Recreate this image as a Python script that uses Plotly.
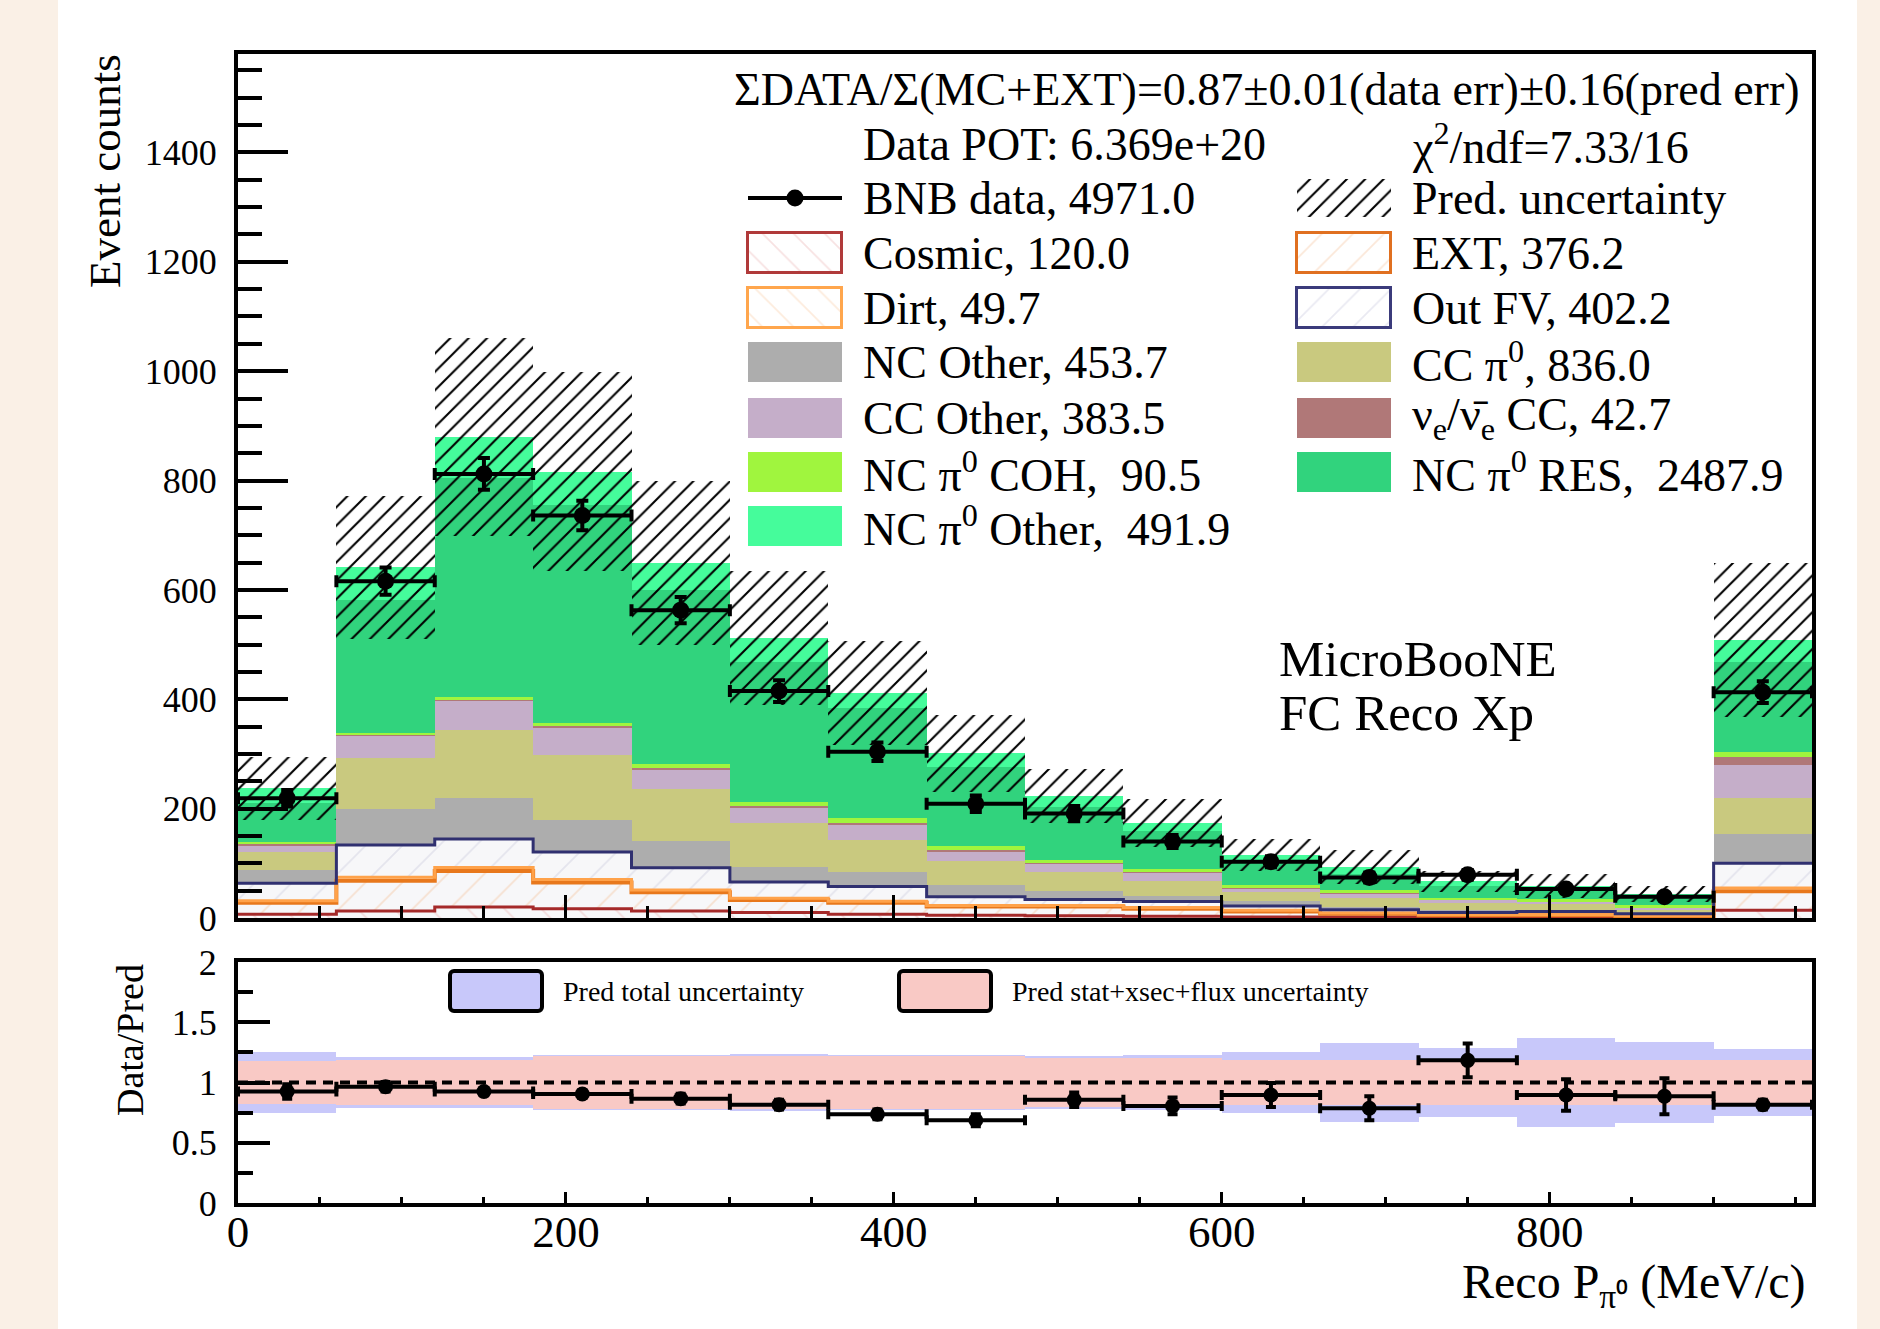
import plotly.graph_objects as go

# ---------------- data ----------------
BIN_EDGES = [0, 60, 120, 180, 240, 300, 360, 420, 480, 540, 600, 660, 720, 780, 840, 900, 960]

DATA = [219, 616, 812, 736, 563, 415, 304, 209, 191, 140, 103, 74, 79, 53, 39, 413]
DATA_ERR = [15, 25, 29, 27, 24, 20, 17, 15, 14, 12, 10, 9, 9, 7, 6, 20]

COSMIC = [7, 13, 20, 17, 13, 10, 7, 5, 4, 3, 2, 2, 1, 1, 1, 14]
EXT = [21, 55, 66, 48, 34, 23, 21, 16, 17, 14, 10, 6, 4, 4, 2, 35]
DIRT = [3.5, 6.5, 6.5, 5.5, 4, 3, 2.5, 2, 2, 2, 2, 1, 1, 1, 1, 6]
OUT_FV = [32, 59, 52, 50, 41, 30, 27, 16, 11, 11, 8, 6, 4, 6, 4, 45]
NC_OTHER = [23.5, 65.5, 74.5, 59.5, 48, 28, 26.5, 21, 16, 11, 10, 6, 5, 3, 2, 54]
CC_PI0 = [34, 93, 125, 119, 96, 80, 58, 45, 34, 27, 15, 16, 13, 10, 5, 66]
CC_OTHER = [12, 41, 53, 49, 36, 28, 29, 17, 15, 15, 7, 8, 5, 5, 4, 59]
NUE_CC = [1.5, 2, 2, 2.5, 2.5, 2.5, 2.5, 2, 1.5, 1.5, 1, 1, 1, 1, 1, 16]
NC_PI0_COH = [4, 4, 6, 7, 8, 8, 9, 7, 6, 5, 5, 5, 3, 3, 3, 8]
NC_PI0_RES = [71.5, 242, 399, 397.5, 317.5, 256.5, 201.5, 145, 96.5, 69.5, 43, 29, 21, 18, 15, 165]
NC_PI0_OTHER = [27, 60, 75, 61, 50, 43, 28, 25, 20, 15, 12, 14, 9, 7, 6, 40]

PRED_ERR = [58, 130, 181, 182, 150, 123, 95, 70, 50, 44, 29, 31, 19, 22, 15, 141]

RATIO = [0.925, 0.965, 0.925, 0.905, 0.866, 0.816, 0.736, 0.687, 0.856, 0.806,
         0.896, 0.786, 1.184, 0.896, 0.886, 0.816]
RATIO_ERR = [0.06, 0.04, 0.03, 0.03, 0.04, 0.04, 0.04, 0.05, 0.06, 0.07,
             0.10, 0.10, 0.14, 0.13, 0.15, 0.04]
BAND_TOTAL = [0.25, 0.21, 0.21, 0.23, 0.23, 0.24, 0.23, 0.23, 0.22, 0.23,
              0.25, 0.33, 0.29, 0.37, 0.34, 0.28]
BAND_STAT = [0.18, 0.19, 0.19, 0.22, 0.22, 0.22, 0.22, 0.22, 0.20, 0.20,
             0.19, 0.19, 0.19, 0.19, 0.19, 0.19]

STAT_TEXT = "ΣDATA/Σ(MC+EXT)=0.87±0.01(data err)±0.16(pred err)"
POT_TEXT = "Data POT: 6.369e+20"
CHI2_TEXT = "χ<sup>2</sup>/ndf=7.33/16"

# ---------------- helpers ----------------
W, H = 1880, 1329
FONT = "Liberation Serif"
centers = [(BIN_EDGES[i] + BIN_EDGES[i + 1]) / 2 for i in range(len(BIN_EDGES) - 1)]
widths = [BIN_EDGES[i + 1] - BIN_EDGES[i] for i in range(len(BIN_EDGES) - 1)]
halfw = [w / 2 for w in widths]
X_MIN, X_MAX = BIN_EDGES[0], BIN_EDGES[-1]


def px_x(p):
    return p / W


def px_y(p):
    return 1 - p / H


fig = go.Figure()

# stacked components: (values, fill color / pattern, outline color, outline width)
components = [
    (COSMIC, dict(shape="\\", fgcolor="#ecc0c0", bgcolor="#f7f7f9", size=26, solidity=0.07), "#a52a2a", 3),
    (EXT, dict(shape="/", fgcolor="#f6c9a8", bgcolor="#f7f7f9", size=26, solidity=0.07), "#e8781c", 4),
    (DIRT, dict(shape="\\", fgcolor="#fbd6b6", bgcolor="#f7f7f9", size=26, solidity=0.07), "#ffa24a", 3),
    (OUT_FV, dict(shape="/", fgcolor="#d2d2e2", bgcolor="#f7f7f9", size=26, solidity=0.07), "#303070", 3),
    (NC_OTHER, "#adadad", None, 0),
    (CC_PI0, "#c9c97f", None, 0),
    (CC_OTHER, "#c5aec9", None, 0),
    (NUE_CC, "#b07878", None, 0),
    (NC_PI0_COH, "#a0f53e", None, 0),
    (NC_PI0_RES, "#31d37d", None, 0),
    (NC_PI0_OTHER, "#45fc9b", None, 0),
]

cum = [0.0] * len(centers)
step_lines = []
for vals, style, lcol, lw in components:
    if isinstance(style, dict):
        marker = dict(color=style["bgcolor"], line=dict(width=0), pattern=style)
    else:
        marker = dict(color=style, line=dict(width=0))
    fig.add_trace(go.Bar(x=centers, y=vals, base=list(cum), width=widths, marker=marker,
                         xaxis="x", yaxis="y", hoverinfo="skip"))
    cum = [c + v for c, v in zip(cum, vals)]
    if lw:
        step_lines.append((list(cum), lcol, lw))

total = cum

# prediction uncertainty hatch
HATCH = dict(shape="/", fgcolor="black", bgcolor="rgba(0,0,0,0)", size=13, solidity=0.16, fillmode="replace")
fig.add_trace(go.Bar(
    x=centers, y=[2 * e for e in PRED_ERR], base=[t - e for t, e in zip(total, PRED_ERR)],
    width=widths, xaxis="x", yaxis="y", hoverinfo="skip",
    marker=dict(color="rgba(0,0,0,0)", line=dict(width=0), pattern=HATCH)))

for tops, lcol, lw in step_lines:
    fig.add_trace(go.Scatter(x=BIN_EDGES, y=tops + [tops[-1]], mode="lines",
                             line=dict(color=lcol, width=lw, shape="hv"),
                             xaxis="x", yaxis="y", hoverinfo="skip"))

# data points
fig.add_trace(go.Scatter(
    x=centers, y=DATA, mode="markers", xaxis="x", yaxis="y",
    marker=dict(color="black", size=17),
    error_y=dict(type="data", array=DATA_ERR, color="black", thickness=4, width=6),
    error_x=dict(type="data", array=halfw, color="black", thickness=4, width=6)))

# ratio panel
fig.add_trace(go.Bar(x=centers, y=[2 * b for b in BAND_TOTAL], base=[1 - b for b in BAND_TOTAL],
                     width=widths, marker=dict(color="#c8c8fa", line=dict(width=0)),
                     xaxis="x2", yaxis="y2", hoverinfo="skip"))
fig.add_trace(go.Bar(x=centers, y=[2 * b for b in BAND_STAT], base=[1 - b for b in BAND_STAT],
                     width=widths, marker=dict(color="#f9c9c5", line=dict(width=0)),
                     xaxis="x2", yaxis="y2", hoverinfo="skip"))
fig.add_trace(go.Scatter(x=[X_MIN, X_MAX], y=[1, 1], mode="lines",
                         line=dict(color="black", width=4, dash="10px,7px"),
                         xaxis="x2", yaxis="y2", hoverinfo="skip"))
fig.add_trace(go.Scatter(
    x=centers, y=RATIO, mode="markers", xaxis="x2", yaxis="y2",
    marker=dict(color="black", size=15),
    error_y=dict(type="data", array=RATIO_ERR, color="black", thickness=4, width=5),
    error_x=dict(type="data", array=halfw, color="black", thickness=4, width=5)))

# ---------------- legends (drawn on a pixel-space overlay axis) ----------------
annotations = []


def txt(x, y, s, size=46, anchor="left", family=FONT, angle=0):
    annotations.append(dict(x=x, y=y, xref="x3", yref="y3", text=s, showarrow=False,
                            xanchor=anchor, yanchor="middle", textangle=angle,
                            font=dict(size=size, family=family, color="black")))


def swatch(xc, yc, w, h, color, pattern=None, lcol=None, lw=0, radius=None):
    marker = dict(color=color, line=dict(width=lw, color=lcol or color))
    if pattern:
        marker["pattern"] = pattern
    if radius:
        marker["cornerradius"] = radius
    fig.add_trace(go.Bar(x=[xc], y=[h], base=[yc - h / 2], width=[w], marker=marker,
                         xaxis="x3", yaxis="y3", hoverinfo="skip"))


C1_SW, C2_SW, SW_W, SW_H = 795, 1344, 94, 40
C1_TX, C2_TX = 861, 1410
ROWS = [198, 253, 308, 362, 418, 472, 526]

txt(1802, 89, STAT_TEXT, anchor="right")
txt(C1_TX, 144, POT_TEXT)
txt(C2_TX, 144, CHI2_TEXT)

# BNB data entry
fig.add_trace(go.Scatter(x=[C1_SW - SW_W / 2, C1_SW + SW_W / 2], y=[ROWS[0], ROWS[0]], mode="lines",
                         line=dict(color="black", width=4), xaxis="x3", yaxis="y3", hoverinfo="skip"))
fig.add_trace(go.Scatter(x=[C1_SW], y=[ROWS[0]], mode="markers", marker=dict(color="black", size=17),
                         xaxis="x3", yaxis="y3", hoverinfo="skip"))
txt(C1_TX, ROWS[0], "BNB data, 4971.0")
# Pred. uncertainty entry
swatch(C2_SW, ROWS[0], SW_W, 38, "rgba(0,0,0,0)", pattern=HATCH)
txt(C2_TX, ROWS[0], "Pred. uncertainty")

legend_entries = [
    (C1_SW, ROWS[1], "Cosmic, 120.0", "white", dict(shape="\\", fgcolor="#efc4c4", bgcolor="white", size=22, solidity=0.08), "#b03a3a", 3),
    (C2_SW, ROWS[1], "EXT, 376.2", "white", dict(shape="/", fgcolor="#f7cfb2", bgcolor="white", size=22, solidity=0.08), "#e07020", 3),
    (C1_SW, ROWS[2], "Dirt, 49.7", "white", dict(shape="\\", fgcolor="#fbd8ba", bgcolor="white", size=22, solidity=0.08), "#ffa64d", 3),
    (C2_SW, ROWS[2], "Out FV, 402.2", "white", dict(shape="/", fgcolor="#d4d4e6", bgcolor="white", size=22, solidity=0.08), "#3b3b7b", 3),
    (C1_SW, ROWS[3], "NC Other, 453.7", "#adadad", None, None, 0),
    (C2_SW, ROWS[3], "CC π<sup>0</sup>, 836.0", "#c9c97f", None, None, 0),
    (C1_SW, ROWS[4], "CC Other, 383.5", "#c5aec9", None, None, 0),
    (C2_SW, ROWS[4], "ν<sub>e</sub>/ν̄<sub>e</sub> CC, 42.7", "#b07878", None, None, 0),
    (C1_SW, ROWS[5], "NC π<sup>0</sup> COH, \u00a090.5", "#a0f53e", None, None, 0),
    (C2_SW, ROWS[5], "NC π<sup>0</sup> RES, \u00a02487.9", "#31d37d", None, None, 0),
    (C1_SW, ROWS[6], "NC π<sup>0</sup> Other, \u00a0491.9", "#45fc9b", None, None, 0),
]
for xc, yc, label, color, pattern, lcol, lw in legend_entries:
    swatch(xc, yc, SW_W, SW_H, color, pattern=pattern, lcol=lcol, lw=lw)
    txt(C1_TX if xc == C1_SW else C2_TX, yc, label)

# experiment label
txt(1277, 659, "MicroBooNE", size=51)
txt(1277, 713, "FC Reco Xp", size=51)

# ratio legend
swatch(496, 991, 92, 40, "#c8c8fa", lcol="black", lw=4, radius=4)
txt(561, 991, "Pred total uncertainty", size=28)
swatch(945, 991, 92, 40, "#f9c9c5", lcol="black", lw=4, radius=4)
txt(1010, 991, "Pred stat+xsec+flux uncertainty", size=28)

# axis titles
txt(105, 171, "Event counts", size=45, anchor="center", angle=-90)
txt(130, 1040, "Data/Pred", size=38, anchor="center", angle=-90)
txt(1808, 1285, "Reco P<sub>π⁰</sub> (MeV/c)", size=48, anchor="right")

# ---------------- layout ----------------
X_DOM = [px_x(238), px_x(1812)]
axis_common = dict(showgrid=False, zeroline=False, showline=True, mirror=True,
                   linecolor="black", linewidth=4, ticks="inside", tickcolor="black",
                   automargin=False)

fig.update_layout(
    width=W, height=H, autosize=False,
    margin=dict(l=0, r=0, t=0, b=0, pad=0, autoexpand=False),
    paper_bgcolor="#faf0e6", plot_bgcolor="rgba(0,0,0,0)",
    barmode="overlay", bargap=0, showlegend=False,
    font=dict(family=FONT, color="black"),
    xaxis=dict(domain=X_DOM, range=[X_MIN, X_MAX], anchor="y", dtick=200, tick0=0,
               ticklen=23, tickwidth=3, showticklabels=False,
               minor=dict(ticks="inside", dtick=50, ticklen=12, tickwidth=3, tickcolor="black"),
               **axis_common),
    yaxis=dict(domain=[px_y(918), px_y(54)], range=[0, 1580], anchor="x", dtick=200, tick0=0,
               ticklen=50, tickwidth=4, tickfont=dict(size=36), ticklabelstandoff=10,
               minor=dict(ticks="inside", dtick=50, ticklen=24, tickwidth=4, tickcolor="black"),
               **axis_common),
    xaxis2=dict(domain=X_DOM, range=[X_MIN, X_MAX], anchor="y2", dtick=200, tick0=0,
                ticklen=11, tickwidth=3, tickfont=dict(size=45), ticklabelstandoff=-14,
                minor=dict(ticks="inside", dtick=50, ticklen=6, tickwidth=3, tickcolor="black"),
                **axis_common),
    yaxis2=dict(domain=[px_y(1203), px_y(962)], range=[0, 2], anchor="x2", dtick=0.5, tick0=0,
                ticklen=32, tickwidth=4, tickfont=dict(size=36), ticklabelstandoff=10,
                minor=dict(ticks="inside", dtick=0.25, ticklen=15, tickwidth=4, tickcolor="black"),
                **axis_common),
    xaxis3=dict(domain=[0, 1], range=[0, W], anchor="y3", visible=False, fixedrange=True, automargin=False),
    yaxis3=dict(domain=[0, 1], range=[H, 0], anchor="x3", visible=False, fixedrange=True, automargin=False),
    shapes=[dict(type="rect", xref="paper", yref="paper", x0=px_x(58), x1=px_x(1857), y0=0, y1=1,
                 fillcolor="white", line=dict(width=0), layer="below")],
    annotations=annotations,
)

fig.write_html("out.html")
